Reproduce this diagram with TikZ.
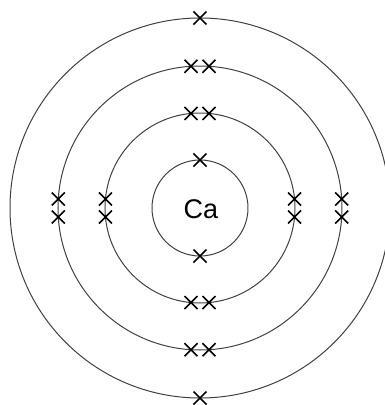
\documentclass[tikz,border=0pt]{standalone}
\usepackage{fontspec}
\setmainfont{Liberation Sans}
\tikzset{shell/.style={draw=black!75,line width=1pt},
  electron/.style={black,line width=1.6pt}}
\newcommand{\elec}[1]{\draw[electron] (#1)+(-6.5,-6.5)--+(6.5,6.5) (#1)+(-6.5,6.5)--+(6.5,-6.5);}

\begin{document}
\begin{tikzpicture}[x=1pt,y=1pt]
  \useasboundingbox (-200,-197) rectangle (184,208);
  \node[font=\fontsize{27}{27}\selectfont] (ca) at (1,-1) {Ca};
  \foreach \r in {48,95,142,190} \draw[shell] (0,0) circle (\r);
  % first shell
  \foreach \a in {90,270} {\elec{\a:48}}
  % second and third shells
  \foreach \r in {95,142} {
    \pgfmathsetmacro\d{asin(9/\r)}
    \foreach \a in {0,90,180,270} {
      \elec{{\a+\d}:\r}
      \elec{{\a-\d}:\r}
    }
  }
  % outer shell
  \foreach \a in {90,270} {\elec{\a:190}}
\end{tikzpicture}
\end{document}
